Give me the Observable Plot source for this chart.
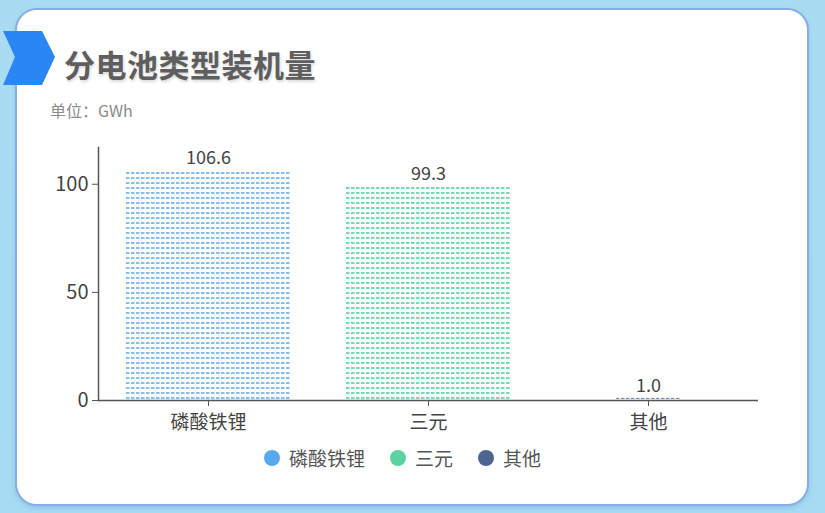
<!DOCTYPE html>
<html>
<head>
<meta charset="utf-8">
<script src="https://cdn.jsdelivr.net/npm/d3@7"></script>
<script src="https://cdn.jsdelivr.net/npm/@observablehq/plot@0.6"></script>
<style>
  html, body { margin: 0; padding: 0; }
  body { width: 825px; height: 513px; position: relative; overflow: hidden;
    background: linear-gradient(180deg, #a9dcf3 0%, #a6dbf3 100%);
    font-family: "Noto Sans CJK SC", "Noto Sans", sans-serif; }
  #card { position: absolute; left: 15px; top: 8px; width: 790px; height: 494px;
    background: #fff; border: 2px solid #86ade6; border-radius: 22px;
    box-shadow: 0 2px 4px rgba(80,120,180,0.25); }
  #chev { position: absolute; left: 0; top: 28px; }
  #title { position: absolute; left: 64px; top: 41px; font-size: 31px; font-weight: 700;
    color: #5e5e5e; letter-spacing: 0.5px; text-shadow: 1px 2px 3px rgba(0,0,0,0.15); }
  #sub { position: absolute; left: 50px; top: 98px; font-size: 16px; color: #8a8a8a; }
  #chart { position: absolute; left: 0; top: 130px; }
  #legend { position: absolute; top: 444px; left: 264px; display: flex; align-items: center;
    font-size: 19px; color: #555; }
  .item { display: flex; align-items: center; margin-right: 25px; }
  .dot { width: 16px; height: 16px; border-radius: 50%; margin-right: 9px; }
</style>
</head>
<body>
<div id="card"></div>
<svg id="chev" width="60" height="60"><polygon points="3,3 42,3 55,29 42,57 3,57 15,29" fill="#2a86f2"/></svg>
<div id="title">分电池类型装机量</div>
<div id="sub">单位：GWh</div>
<svg width="0" height="0" style="position:absolute">
  <defs id="pdefs"></defs>
</svg>
<div id="chart"></div>
<div id="legend"></div>
<script>
const categories = ["磷酸铁锂", "三元", "其他"];
const values = [106.6, 99.3, 1.0];
const colors = ["#57a9ee", "#5ad3a1", "#4f6591"];
const dashColors = ["#86bcee", "#74dab0", "#7f90b6"];
const yTicks = [0, 50, 100];

const data = categories.map((c, i) => ({category: c, value: values[i], pat: `url(#pat${i})`}));

// patterns: rows of short dashes
const defs = d3.select("#pdefs");
dashColors.forEach((c, i) => {
  const p = defs.append("pattern").attr("id", `pat${i}`).attr("patternUnits", "userSpaceOnUse")
    .attr("x", 126).attr("y", 267).attr("width", 5).attr("height", 5);
  p.append("rect").attr("x", 0).attr("y", 0).attr("width", 3.5).attr("height", 2)
    .attr("fill", c);
});

const chart = Plot.plot({
  width: 825,
  height: 310,
  marginLeft: 98,
  marginRight: 67,
  marginTop: 17,
  marginBottom: 40,
  style: {fontFamily: "'Noto Sans CJK SC', 'Noto Sans', sans-serif", fontSize: "18px", color: "#444", background: "transparent"},
  x: {domain: categories, paddingInner: 0, paddingOuter: 0, label: null},
  y: {domain: [0, 117], ticks: yTicks, label: null},
  color: {type: "identity"},
  marks: [
    Plot.barY(data.filter(d => d.category !== "其他"), {x: "category", y: "value", fill: "pat", insetLeft: 28, insetRight: 28}),
    Plot.barY(data.filter(d => d.category === "其他"), {x: "category", y: "value", fill: "pat", insetLeft: 78, insetRight: 78}),
    Plot.text(data, {x: "category", y: "value", text: d => d.value.toFixed(1), lineAnchor: "bottom", dy: -6, fontSize: 18, fill: "#444"}),
    Plot.axisY({ticks: yTicks, tickSize: 6, tickPadding: 4, fontSize: 20, stroke: "#555", label: null}),
    Plot.axisX({tickSize: 6, tickPadding: 9, fontSize: 19, stroke: "#555", label: null}),
    Plot.frame({anchor: "left", stroke: "#555", strokeWidth: 1.5}),
    Plot.ruleY([0], {stroke: "#555", strokeWidth: 1.5})
  ]
});
document.getElementById("chart").appendChild(chart);

const legend = d3.select("#legend");
categories.forEach((c, i) => {
  const it = legend.append("div").attr("class", "item");
  it.append("div").attr("class", "dot").style("background", colors[i]);
  it.append("span").text(c);
});
</script>
</body>
</html>
